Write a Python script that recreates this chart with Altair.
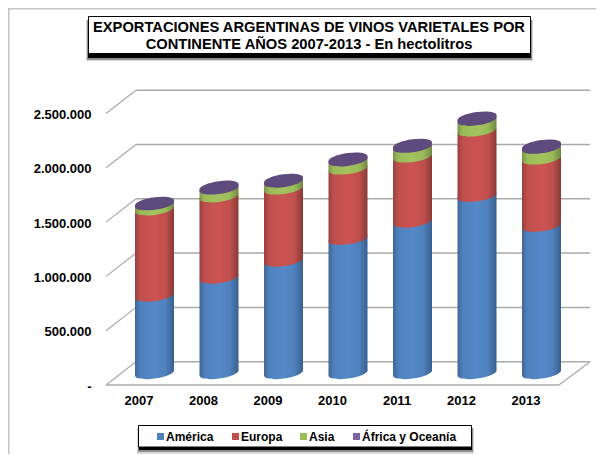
import altair as alt
import pandas as pd

YEARS = [2007, 2008, 2009, 2010, 2011, 2012, 2013]
SERIES = ["América", "Europa", "Asia", "África y Oceanía"]
AMERICA = [713000, 879000, 1035000, 1237000, 1394000, 1633000, 1357000]
EUROPA = [794000, 748000, 665000, 647000, 600000, 600000, 619000]
ASIA = [48000, 73000, 63000, 74000, 90000, 99000, 99000]
AFRICA = [12000, 15000, 16000, 17000, 17000, 19000, 19000]
TICKS = [0, 500000, 1000000, 1500000, 2000000, 2500000]
TICK_LABELS = ["-", "500.000", "1.000.000", "1.500.000", "2.000.000", "2.500.000"]
TITLE_LINES = ["EXPORTACIONES ARGENTINAS DE VINOS VARIETALES POR",
               "CONTINENTE AÑOS 2007-2013 - En hectolitros"]

W, H = 588, 446
PX_YEAR = 64.5
PX_VAL = 54.3 / 500000
X0 = 146.5          # plot px of 2007
Y0 = 365            # plot px of value 0 on the cylinder plane
xdom = [2007 - X0 / PX_YEAR, 2007 + (W - X0) / PX_YEAR]
ydom = [-(H - Y0) / PX_VAL, Y0 / PX_VAL]
xs = alt.Scale(domain=xdom, range=[0, W], nice=False, zero=False)
ys = alt.Scale(domain=ydom, range=[H, 0], nice=False, zero=False)

HALF = 19.5 / PX_YEAR
TILT = 2.5 / PX_VAL
BACK = 11.3 / PX_VAL
FRONT = 12 / PX_VAL
s, ry, k = 2.5 / 19.5, 5.6 / 19.5, 0.5523


def p(v):
    return f"{v:.4f}"


FULL = (f"M1,{p(-s)} C1,{p(-s+k*ry)} {p(k)},{p(ry-k*s)} 0,{p(ry)} "
        f"C{p(-k)},{p(ry+k*s)} -1,{p(s+k*ry)} -1,{p(s)} "
        f"C-1,{p(s-k*ry)} {p(-k)},{p(-ry+k*s)} 0,{p(-ry)} "
        f"C{p(k)},{p(-ry-k*s)} 1,{p(-s-k*ry)} 1,{p(-s)} Z")
SIZE = 39 ** 2


def grad(dark_l, mid, bright, dark_r):
    return alt.Gradient(
        gradient="linear", x1=0, x2=1, y1=0, y2=0,
        stops=[alt.GradientStop(offset=0, color=dark_l),
               alt.GradientStop(offset=0.14, color=mid),
               alt.GradientStop(offset=0.5, color=bright),
               alt.GradientStop(offset=0.78, color=mid),
               alt.GradientStop(offset=1, color=dark_r)])


COLORS = ["#4f81bd", "#c0504d", "#9bbb59", "#8064a2"]
FILLS = [grad("#3f6797", "#4f81bd", "#5588c8", "#39608e"),
         grad("#99403e", "#c0504d", "#cc5452", "#893a38"),
         grad("#7c9647", "#9bbb59", "#a2c35d", "#708740"),
         grad("#5f4a7d", "#5f4a7d", "#5f4a7d", "#5f4a7d")]

X = alt.X("x:Q", scale=xs, axis=None)
Y = alt.Y("y:Q", scale=ys, axis=None)

layers = []

# ---- wall / floor lines
grid = pd.DataFrame({"v": TICKS, "label": TICK_LABELS})
grid["back"] = grid["v"] + BACK
grid["front"] = grid["v"] - FRONT
GRID = "#a9a9a9"
layers.append(alt.Chart(grid).mark_rule(color=GRID, strokeWidth=1.5).encode(
    x=alt.value(136 - 8), x2=alt.value(590 - 8), y=alt.Y("back:Q", scale=ys, axis=None)))
layers.append(alt.Chart(grid).mark_rule(color=GRID, strokeWidth=1.2).encode(
    x=alt.value(106 - 8), x2=alt.value(136 - 8),
    y=alt.Y("front:Q", scale=ys, axis=None), y2="back:Q"))
floor = grid[grid["v"] == 0]
layers.append(alt.Chart(floor).mark_rule(color=GRID, strokeWidth=1.5).encode(
    x=alt.value(106 - 8), x2=alt.value(559 - 8), y=alt.Y("front:Q", scale=ys, axis=None)))
layers.append(alt.Chart(floor).mark_rule(color=GRID, strokeWidth=1.2).encode(
    x=alt.value(559 - 8), x2=alt.value(590 - 8),
    y=alt.Y("front:Q", scale=ys, axis=None), y2="back:Q"))

# ---- cylinders
vals = [AMERICA, EUROPA, ASIA, AFRICA]
base = [0] * len(YEARS)
for si, arr in enumerate(vals):
    top = [b + v for b, v in zip(base, arr)]
    rows = []
    for yr, b, t in zip(YEARS, base, top):
        rows.append({"year": yr, "x": yr - HALF, "y": t - TILT, "y2": b - TILT})
        rows.append({"year": yr, "x": yr + HALF, "y": t + TILT, "y2": b + TILT})
    layers.append(alt.Chart(pd.DataFrame(rows)).mark_area(
        fill=FILLS[si], line=False, opacity=1, interpolate="linear").encode(
        x=X, y=Y, y2="y2:Q", detail="year:O"))
    seam = pd.DataFrame({"x": YEARS, "y": base})
    layers.append(alt.Chart(seam).mark_point(
        shape=FULL, size=SIZE, filled=True, fill=FILLS[si], opacity=1, strokeWidth=0).encode(x=X, y=Y))
    base = top
tops = pd.DataFrame({"x": YEARS, "y": base})
layers.append(alt.Chart(tops).mark_point(
    shape=FULL, size=SIZE, filled=True, fill="#5f4a7d", opacity=1, strokeWidth=0).encode(x=X, y=Y))

# ---- tick labels
layers.append(alt.Chart(grid).mark_text(
    align="right", baseline="middle", font="Liberation Sans", fontWeight="bold", fontSize=13, color="#000000", dy=1.5,
).encode(x=alt.value(91.5 - 8), y=alt.Y("front:Q", scale=ys, axis=None), text="label:N"))
yl = pd.DataFrame({"x": [y - 15.5 / PX_YEAR for y in YEARS], "label": [str(y) for y in YEARS]})
layers.append(alt.Chart(yl).mark_text(
    align="center", baseline="middle", font="Liberation Sans", fontWeight="bold", fontSize=13, color="#000000",
).encode(x=alt.X("x:Q", scale=xs, axis=None), y=alt.value(401 - 8), text="label:N"))

ONE = alt.Data(values=[{"a": 1}])


def box(x1, y1, x2, y2, **kw):
    return alt.Chart(ONE).mark_rect(**kw).encode(
        x=alt.value(x1 - 8), x2=alt.value(x2 - 8), y=alt.value(y1 - 8), y2=alt.value(y2 - 8))


def txt(t, x, y, **kw):
    return alt.Chart(alt.Data(values=[{"t": t}])).mark_text(
        font="Liberation Sans", fontWeight="bold", baseline="middle", color="#000000", **kw).encode(
        x=alt.value(x - 8), y=alt.value(y - 8), text="t:N")


# ---- chart border
for a in [(8, 8, 604, 9.5), (8, 8, 9.5, 462)]:
    layers.append(box(*a, fill="#c4c4c4"))

# ---- title box
layers += [box(86, 20, 533, 61, fill="#000000", opacity=0.15),
           box(87, 20, 532, 60, fill="#000000", opacity=0.35),
           box(88, 20, 531, 58, fill="#000000"),
           box(88.5, 16.5, 530.5, 53.5, fill="#ffffff", stroke="#000000", strokeWidth=1)]
layers.append(txt(TITLE_LINES[0], 309, 27.5, align="center", fontSize=14.7))
layers.append(txt(TITLE_LINES[1], 309, 44.5, align="center", fontSize=14.7))

# ---- legend box
layers += [box(137, 428, 474, 454, fill="#000000", opacity=0.15),
           box(138, 428, 473, 452, fill="#000000", opacity=0.35),
           box(139, 428, 472, 450, fill="#000000"),
           box(138.5, 425.5, 471.5, 447, fill="#ffffff", stroke="#000000", strokeWidth=1)]
sq = [157, 232, 300, 353]
for name, c, x in zip(SERIES, COLORS, sq):
    layers.append(box(x, 433, x + 7, 440, fill=c))
    layers.append(txt(name, x + 9, 437, align="left", fontSize=12))

chart = alt.layer(*layers).properties(
    width=W, height=H, padding=0, autosize=alt.AutoSizeParams(type="none"),
    background="#ffffff", view=alt.ViewConfig(stroke=None),
)
chart.save("out.html", embed_options={"renderer": "svg", "actions": False})
